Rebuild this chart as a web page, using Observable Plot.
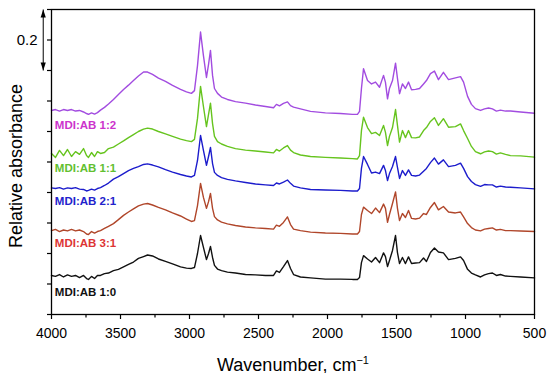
<!DOCTYPE html>
<html><head><meta charset="utf-8">
<script src="https://cdn.jsdelivr.net/npm/d3@7"></script>
<script src="https://cdn.jsdelivr.net/npm/@observablehq/plot@0.6"></script>
<style>body{margin:0;background:#fff} svg{display:block}</style>
</head><body><div id="chart"></div>
<script>
// Wavenumber grid (cm^-1)
const wavenumber = [4000,3971,3942,3913,3884,3855,3826,3797,3768,3746,3732,3710,3688,3667,3645,
3616,3587,3551,3515,3478,3442,3406,3370,3333,3304,
3268,3225,3174,3123,3065,3022,2986,2964,2942,2920,
2899,2877,2862,2848,2833,2819,2797,2768,2725,2667,
2594,2522,2449,2391,2370,2348,2319,2290,2268,2246,
2196,2123,2015,1906,1819,1783,1768,1754,1739,1710,
1681,1652,1623,1594,1580,1565,1551,1529,1507,1493,
1478,1457,1435,1413,1391,1362,1333,1304,1283,1254,
1225,1196,1160,1123,1073,1036,1014,985,957,928,
891,862,833,805,776,747,710,674,601,500];

// Offset spectra (relative absorbance)
const mdiAB_1_0 = [0.128,0.125,0.131,0.123,0.130,0.125,0.128,0.121,0.128,0.118,0.115,0.125,0.118,0.128,0.128,
0.134,0.136,0.144,0.148,0.156,0.164,0.172,0.184,0.190,0.195,
0.192,0.182,0.174,0.166,0.156,0.152,0.151,0.154,0.200,0.259,
0.220,0.180,0.200,0.223,0.187,0.161,0.149,0.144,0.139,0.136,
0.131,0.130,0.128,0.128,0.143,0.138,0.157,0.177,0.151,0.131,
0.123,0.120,0.116,0.116,0.115,0.115,0.121,0.170,0.193,0.182,
0.172,0.187,0.170,0.202,0.190,0.157,0.177,0.210,0.259,0.203,
0.167,0.187,0.167,0.189,0.167,0.169,0.170,0.185,0.174,0.203,
0.218,0.205,0.202,0.180,0.184,0.189,0.177,0.148,0.136,0.130,
0.123,0.130,0.134,0.136,0.128,0.131,0.126,0.125,0.123,0.120];

const mdiAB_3_1 = [0.275,0.279,0.272,0.277,0.274,0.279,0.274,0.277,0.272,0.264,0.262,0.272,0.267,0.272,0.275,
0.282,0.289,0.298,0.311,0.325,0.336,0.346,0.356,0.362,0.364,
0.359,0.351,0.343,0.333,0.323,0.313,0.305,0.308,0.357,0.430,
0.384,0.348,0.370,0.397,0.348,0.321,0.310,0.303,0.297,0.292,
0.287,0.284,0.282,0.280,0.293,0.289,0.302,0.320,0.295,0.280,
0.275,0.270,0.267,0.266,0.264,0.264,0.272,0.328,0.352,0.341,
0.331,0.349,0.334,0.362,0.348,0.302,0.328,0.364,0.402,0.348,
0.308,0.331,0.318,0.341,0.315,0.313,0.316,0.331,0.328,0.351,
0.367,0.343,0.354,0.336,0.333,0.336,0.320,0.298,0.285,0.277,
0.274,0.280,0.282,0.284,0.277,0.279,0.275,0.275,0.274,0.272];

const mdiAB_2_1 = [0.415,0.413,0.416,0.411,0.415,0.413,0.416,0.411,0.410,0.405,0.407,0.411,0.408,0.413,0.416,
0.423,0.431,0.444,0.452,0.462,0.472,0.479,0.485,0.492,0.494,
0.490,0.484,0.475,0.467,0.459,0.454,0.451,0.456,0.505,0.587,
0.538,0.489,0.518,0.548,0.495,0.466,0.456,0.449,0.443,0.438,
0.433,0.428,0.425,0.423,0.431,0.428,0.434,0.441,0.430,0.421,
0.415,0.410,0.408,0.407,0.405,0.405,0.413,0.479,0.518,0.492,
0.464,0.467,0.462,0.489,0.472,0.439,0.462,0.485,0.518,0.482,
0.446,0.472,0.456,0.474,0.456,0.454,0.457,0.470,0.479,0.498,
0.513,0.493,0.507,0.485,0.489,0.496,0.479,0.452,0.436,0.426,
0.420,0.426,0.425,0.425,0.418,0.421,0.418,0.417,0.415,0.412];

const mdiAB_1_1 = [0.528,0.515,0.538,0.521,0.541,0.518,0.534,0.525,0.544,0.521,0.515,0.531,0.518,0.534,0.528,
0.531,0.544,0.549,0.559,0.569,0.580,0.590,0.600,0.608,0.611,
0.608,0.600,0.592,0.584,0.575,0.570,0.567,0.574,0.643,0.748,
0.682,0.616,0.656,0.693,0.626,0.584,0.567,0.559,0.551,0.544,
0.539,0.536,0.533,0.530,0.541,0.536,0.546,0.554,0.539,0.531,
0.523,0.518,0.515,0.513,0.511,0.510,0.521,0.603,0.647,0.613,
0.593,0.597,0.587,0.620,0.597,0.554,0.584,0.613,0.672,0.620,
0.565,0.603,0.580,0.603,0.580,0.579,0.582,0.603,0.613,0.633,
0.645,0.620,0.642,0.614,0.616,0.625,0.603,0.577,0.551,0.534,
0.527,0.533,0.536,0.534,0.526,0.530,0.525,0.521,0.520,0.516];

const mdiAB_1_2 = [0.669,0.672,0.667,0.672,0.669,0.672,0.667,0.669,0.664,0.659,0.656,0.661,0.657,0.662,0.670,
0.679,0.690,0.705,0.721,0.738,0.752,0.767,0.782,0.795,0.795,
0.787,0.775,0.764,0.751,0.738,0.730,0.725,0.734,0.816,0.926,
0.849,0.777,0.820,0.866,0.784,0.741,0.725,0.713,0.705,0.698,
0.693,0.687,0.682,0.678,0.689,0.684,0.692,0.697,0.685,0.680,
0.674,0.666,0.661,0.659,0.656,0.656,0.666,0.741,0.806,0.767,
0.756,0.762,0.745,0.784,0.761,0.707,0.741,0.767,0.824,0.774,
0.724,0.756,0.741,0.762,0.737,0.738,0.741,0.756,0.767,0.790,
0.798,0.770,0.794,0.770,0.776,0.780,0.762,0.715,0.689,0.675,
0.669,0.674,0.677,0.674,0.667,0.670,0.667,0.667,0.664,0.660];

const seriesNames = ["MDI:AB 1:0","MDI:AB 3:1","MDI:AB 2:1","MDI:AB 1:1","MDI:AB 1:2"];
const seriesValues = [mdiAB_1_0, mdiAB_3_1, mdiAB_2_1, mdiAB_1_1, mdiAB_1_2];
const lineColors = ["#111111","#b0462a","#1c1ccc","#66c41e","#a24ce0"];
const labelColors = ["#111111","#dd3535","#2222cc","#62c030","#cc33cc"];
const labelY = [0.074, 0.234, 0.370, 0.480, 0.620];
const labelWn = 3976;

const xMajorTicks = [4000,3500,3000,2500,2000,1500,1000,500];
const xMinorTicks = [3750,3250,2750,2250,1750,1250,750];
const yTicks = [0,0.1,0.2,0.3,0.4,0.5,0.6,0.7,0.8,0.9,1.0];
const scaleBar = [{wn: 4060, from: 0.8, to: 1.0, mid: 0.9, label: "0.2"}];

const headUp = {draw(ctx){ ctx.moveTo(0,0); ctx.lineTo(2.6,8); ctx.lineTo(-2.6,8); ctx.closePath(); }};
const headDown = {draw(ctx){ ctx.moveTo(0,0); ctx.lineTo(2.6,-8); ctx.lineTo(-2.6,-8); ctx.closePath(); }};

const marks = [];
seriesValues.forEach((vals, k) => {
  marks.push(Plot.line(wavenumber, {x: d => d, y: (d, i) => vals[i], stroke: lineColors[k], strokeWidth: 1.4}));
  marks.push(Plot.text([seriesNames[k]], {x: () => labelWn, y: () => labelY[k], text: d => d,
    textAnchor: "start", fontWeight: "bold", fontSize: 11.5, fill: labelColors[k]}));
});

const chart = Plot.plot({
  width: 550, height: 373,
  marginLeft: 51, marginRight: 16, marginTop: 9, marginBottom: 59,
  style: {fontFamily: "'Liberation Sans', Arial, sans-serif", background: "white", color: "black"},
  x: {domain: [4000, 500]},
  y: {domain: [0, 1]},
  marks: [
    ...marks,
    Plot.axisX(xMajorTicks, {tickSize: 5, tickPadding: 9, fontSize: 14, strokeWidth: 1.2, tickFormat: d3.format("d"), label: null}),
    Plot.axisX(xMinorTicks, {tickSize: 3.5, strokeWidth: 1.2, tickFormat: () => "", label: null}),
    Plot.axisY(yTicks, {tickSize: 4, strokeWidth: 1.2, tickFormat: () => "", label: null}),
    Plot.frame({stroke: "black", strokeWidth: 1.3}),
    Plot.link(scaleBar, {x1: "wn", x2: "wn", y1: "from", y2: "to", stroke: "black", strokeWidth: 1}),
    Plot.dot(scaleBar, {x: "wn", y: "to", symbol: headUp, fill: "black", stroke: "none"}),
    Plot.dot(scaleBar, {x: "wn", y: "from", symbol: headDown, fill: "black", stroke: "none"}),
    Plot.text(scaleBar, {y: "mid", text: "label", frameAnchor: "left", textAnchor: "end", dx: -14, fontSize: 15}),
    Plot.text(["Wavenumber, cm"], {frameAnchor: "bottom", textAnchor: "middle", lineAnchor: "bottom", dy: 56, fontSize: 18}),
    Plot.text(["Relative absorbance"], {frameAnchor: "left", textAnchor: "middle", lineAnchor: "middle", rotate: -90, dx: -35, dy: 4, fontSize: 18})
  ]
});
document.getElementById("chart").appendChild(chart);

// superscript on the x-axis title
chart.querySelectorAll("text").forEach(t => {
  if (t.textContent === "Wavenumber, cm") {
    const ns = "http://www.w3.org/2000/svg";
    const sup = document.createElementNS(ns, "tspan");
    sup.setAttribute("dy", "-7");
    sup.setAttribute("font-size", "11");
    sup.textContent = "\u22121";
    t.appendChild(sup);
  }
});
</script>
</body></html>
